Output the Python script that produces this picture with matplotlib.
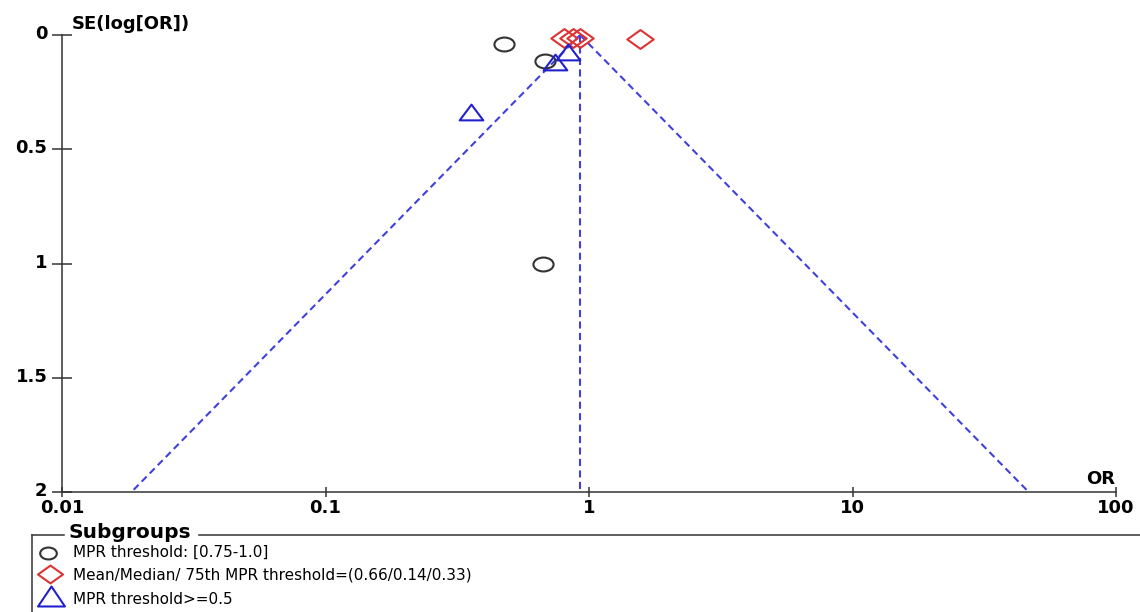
import numpy as np
import matplotlib
matplotlib.use("Agg")
import matplotlib.pyplot as plt
import matplotlib.transforms as mtransforms
from matplotlib.path import Path
from matplotlib.lines import Line2D
from matplotlib.ticker import NullLocator

# Study estimates per subgroup: odds ratio and standard error of log(OR)
mpr_range_or = [0.475, 0.68, 0.67]
mpr_range_se = [0.039, 0.114, 1.002]
mean_median_or = [0.804, 0.869, 0.924, 1.56]
mean_median_se = [0.013, 0.013, 0.013, 0.017]
mpr_half_or = [0.357, 0.745, 0.832]
mpr_half_se = [0.337, 0.118, 0.074]

pooled_or = 0.925
se_max = 2.0

subgroup_labels = [
    "MPR threshold: [0.75-1.0]",
    "Mean/Median/ 75th MPR threshold=(0.66/0.14/0.33)",
    "MPR threshold>=0.5",
]
x_ticks = [0.01, 0.1, 1, 10, 100]
x_tick_labels = ["0.01", "0.1", "1", "10", "100"]
y_ticks = [0, 0.5, 1, 1.5, 2]
y_tick_labels = ["0", "0.5", "1", "1.5", "2"]

W, H = 1140, 612
AXIS_COLOR = "#333333"
CIRCLE_COLOR = "#333333"
DIAMOND_COLOR = "#dd3333"
TRIANGLE_COLOR = "#2222cc"
FUNNEL_COLOR = "#4040e0"


def wide_circle(sx=1.45):
    c = Path.unit_circle()
    return Path(c.vertices * np.array([sx, 1.0]), c.codes)


def wide_diamond(sx=1.4):
    return Path([(sx, 0), (0, 1), (-sx, 0), (0, -1), (sx, 0)],
                [Path.MOVETO, Path.LINETO, Path.LINETO, Path.LINETO, Path.CLOSEPOLY])


def wide_triangle(sx=1.5):
    return Path([(0, 1), (-sx, -1), (sx, -1), (0, 1)],
                [Path.MOVETO, Path.LINETO, Path.LINETO, Path.CLOSEPOLY])


def fx(px):
    return px / W


def fy(py):
    return 1 - py / H


fig = plt.figure(figsize=(W / 100, H / 100), dpi=100)
fig.patch.set_facecolor("white")

ax = fig.add_axes([fx(62), fy(492), (1116 - 62) / W, (492 - 35) / H])
ax.set_xscale("log")
ax.set_xlim(0.01, 100)
ax.set_ylim(se_max, 0)

# Funnel: pooled estimate with 95% pseudo-confidence limits
se_line = np.linspace(0, se_max, 50)
log_p = np.log(pooled_or)
dash = (0, (3.4, 2.1))
ax.plot(np.exp(log_p - 1.96 * se_line), se_line, color=FUNNEL_COLOR, lw=1.5,
        linestyle=dash, zorder=2)
ax.plot(np.exp(log_p + 1.96 * se_line), se_line, color=FUNNEL_COLOR, lw=1.5,
        linestyle=dash, zorder=2)
ax.plot([pooled_or, pooled_or], [0, se_max], color=FUNNEL_COLOR, lw=1.5,
        linestyle=dash, zorder=2)

# Study markers
ax.plot(mpr_range_or, mpr_range_se, linestyle="none", marker=wide_circle(),
        markersize=14.5, markerfacecolor="none", markeredgecolor=CIRCLE_COLOR,
        markeredgewidth=1.5, clip_on=False, zorder=3)
ax.plot(mean_median_or, mean_median_se, linestyle="none", marker=wide_diamond(),
        markersize=19, markerfacecolor="none", markeredgecolor=DIAMOND_COLOR,
        markeredgewidth=1.5, clip_on=False, zorder=3)
ax.plot(mpr_half_or, mpr_half_se, linestyle="none", marker=wide_triangle(),
        markersize=17, markerfacecolor="none", markeredgecolor=TRIANGLE_COLOR,
        markeredgewidth=1.5, clip_on=False, zorder=3)

# Axes styling
for side in ("top", "right"):
    ax.spines[side].set_visible(False)
for side in ("left", "bottom"):
    ax.spines[side].set_color(AXIS_COLOR)
    ax.spines[side].set_linewidth(1.1)

ax.set_xticks(x_ticks)
ax.set_xticklabels(x_tick_labels, fontweight="bold", fontsize=13)
ax.xaxis.set_minor_locator(NullLocator())
ax.set_yticks(y_ticks)
ax.set_yticklabels(y_tick_labels, fontweight="bold", fontsize=13)
ax.tick_params(axis="y", direction="inout", length=14, width=1.1,
               color=AXIS_COLOR, pad=3.5, labelcolor="black")
ax.tick_params(axis="x", direction="inout", length=7, width=1.1,
               color=AXIS_COLOR, pad=1.5, labelcolor="black")

# y labels sit a little above their ticks
lift = mtransforms.ScaledTranslation(0, 3 / 100, fig.dpi_scale_trans)
for lbl in ax.get_yticklabels():
    lbl.set_transform(lbl.get_transform() + lift)

fig.text(fx(72), fy(29), "SE(log[OR])", fontsize=13, fontweight="bold",
         ha="left", va="baseline")
fig.text(fx(1115), fy(484), "OR", fontsize=13, fontweight="bold",
         ha="right", va="baseline")

# Subgroup legend box
box_kw = dict(color=AXIS_COLOR, lw=1.1, transform=fig.transFigure)
fig.add_artist(Line2D([fx(32), fx(32)], [fy(535), fy(613)], **box_kw))
fig.add_artist(Line2D([fx(32), fx(64)], [fy(535), fy(535)], **box_kw))
fig.add_artist(Line2D([fx(199), fx(1141)], [fy(535), fy(535)], **box_kw))
fig.text(fx(69), fy(532), "Subgroups", fontsize=14.5, fontweight="bold",
         ha="left", va="center")

legend_markers = [
    (wide_circle(1.4), 12, CIRCLE_COLOR, 48, 553),
    (wide_diamond(1.4), 18, DIAMOND_COLOR, 50, 574),
    (wide_triangle(1.35), 19.4, TRIANGLE_COLOR, 51, 596),
]
text_rows = [552, 575, 599]
for (mk, ms, col, mx, my), label, ty in zip(legend_markers, subgroup_labels, text_rows):
    fig.add_artist(Line2D([fx(mx)], [fy(my)], linestyle="none", marker=mk,
                          markersize=ms, markerfacecolor="none",
                          markeredgecolor=col, markeredgewidth=1.5,
                          transform=fig.transFigure))
    fig.text(fx(73), fy(ty), label, fontsize=11, ha="left", va="center")

fig.savefig("out.png", dpi=100, facecolor="white")
